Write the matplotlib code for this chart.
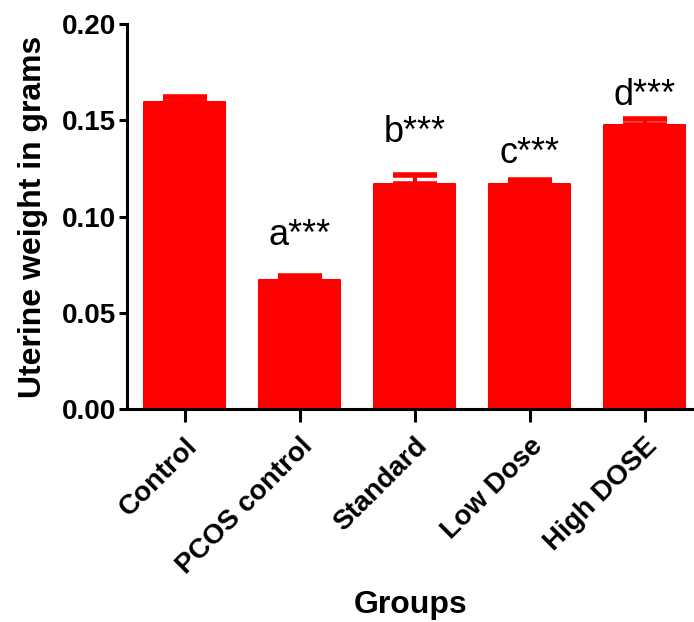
import matplotlib.pyplot as plt
import numpy as np

plt.rcParams['font.family'] = ['Liberation Sans', 'DejaVu Sans']

groups = ["Control", "PCOS control", "Standard", "Low Dose", "High DOSE"]
means = [0.1596, 0.0670, 0.1170, 0.1170, 0.1475]
sem = [0.0027, 0.0020, 0.0046, 0.0022, 0.0032]
labels = ["", "a***", "b***", "c***", "d***"]
label_y = [None, 0.085, 0.1387, 0.128, 0.158]

fig = plt.figure(figsize=(6.94, 6.22), dpi=100)
ax = fig.add_axes([0.183, 0.3424, 0.817, 0.619])

x = np.arange(len(groups))
ax.bar(x, means, width=0.71, color="#ff0000", edgecolor="#ff0000",
       linewidth=1.5, joinstyle="round", zorder=2)
ax.errorbar(x, means, yerr=[np.zeros(len(sem)), sem], fmt="none",
            ecolor="#ff0000", elinewidth=3, capsize=16, capthick=4, zorder=1)

for xi, lab, ly in zip(x, labels, label_y):
    if lab:
        ax.text(xi, ly, lab, ha="center", va="baseline", fontsize=26)

ax.set_xlim(-0.5, 4.43)
ax.set_ylim(0, 0.20)
ax.set_yticks([0.00, 0.05, 0.10, 0.15, 0.20])
ax.set_yticklabels(["0.00", "0.05", "0.10", "0.15", "0.20"])
ax.set_xticks(x)
ax.set_xticklabels(groups, rotation=45, ha="right", rotation_mode="anchor")

for lbl in ax.get_xticklabels() + ax.get_yticklabels():
    lbl.set_fontweight("bold")
    lbl.set_fontsize(20)

ax.spines["top"].set_visible(False)
ax.spines["right"].set_visible(False)
ax.spines["left"].set_linewidth(2.2)
ax.spines["bottom"].set_linewidth(2.2)
ax.tick_params(axis="y", width=2.2, length=6, pad=2)
ax.tick_params(axis="x", width=2.2, length=9, pad=8)

ax.set_ylabel("Uterine weight in grams", fontsize=23, fontweight="bold", labelpad=10)
ax.set_xlabel("Groups", fontsize=23, fontweight="bold", labelpad=8)

plt.savefig("out.png", dpi=100)
